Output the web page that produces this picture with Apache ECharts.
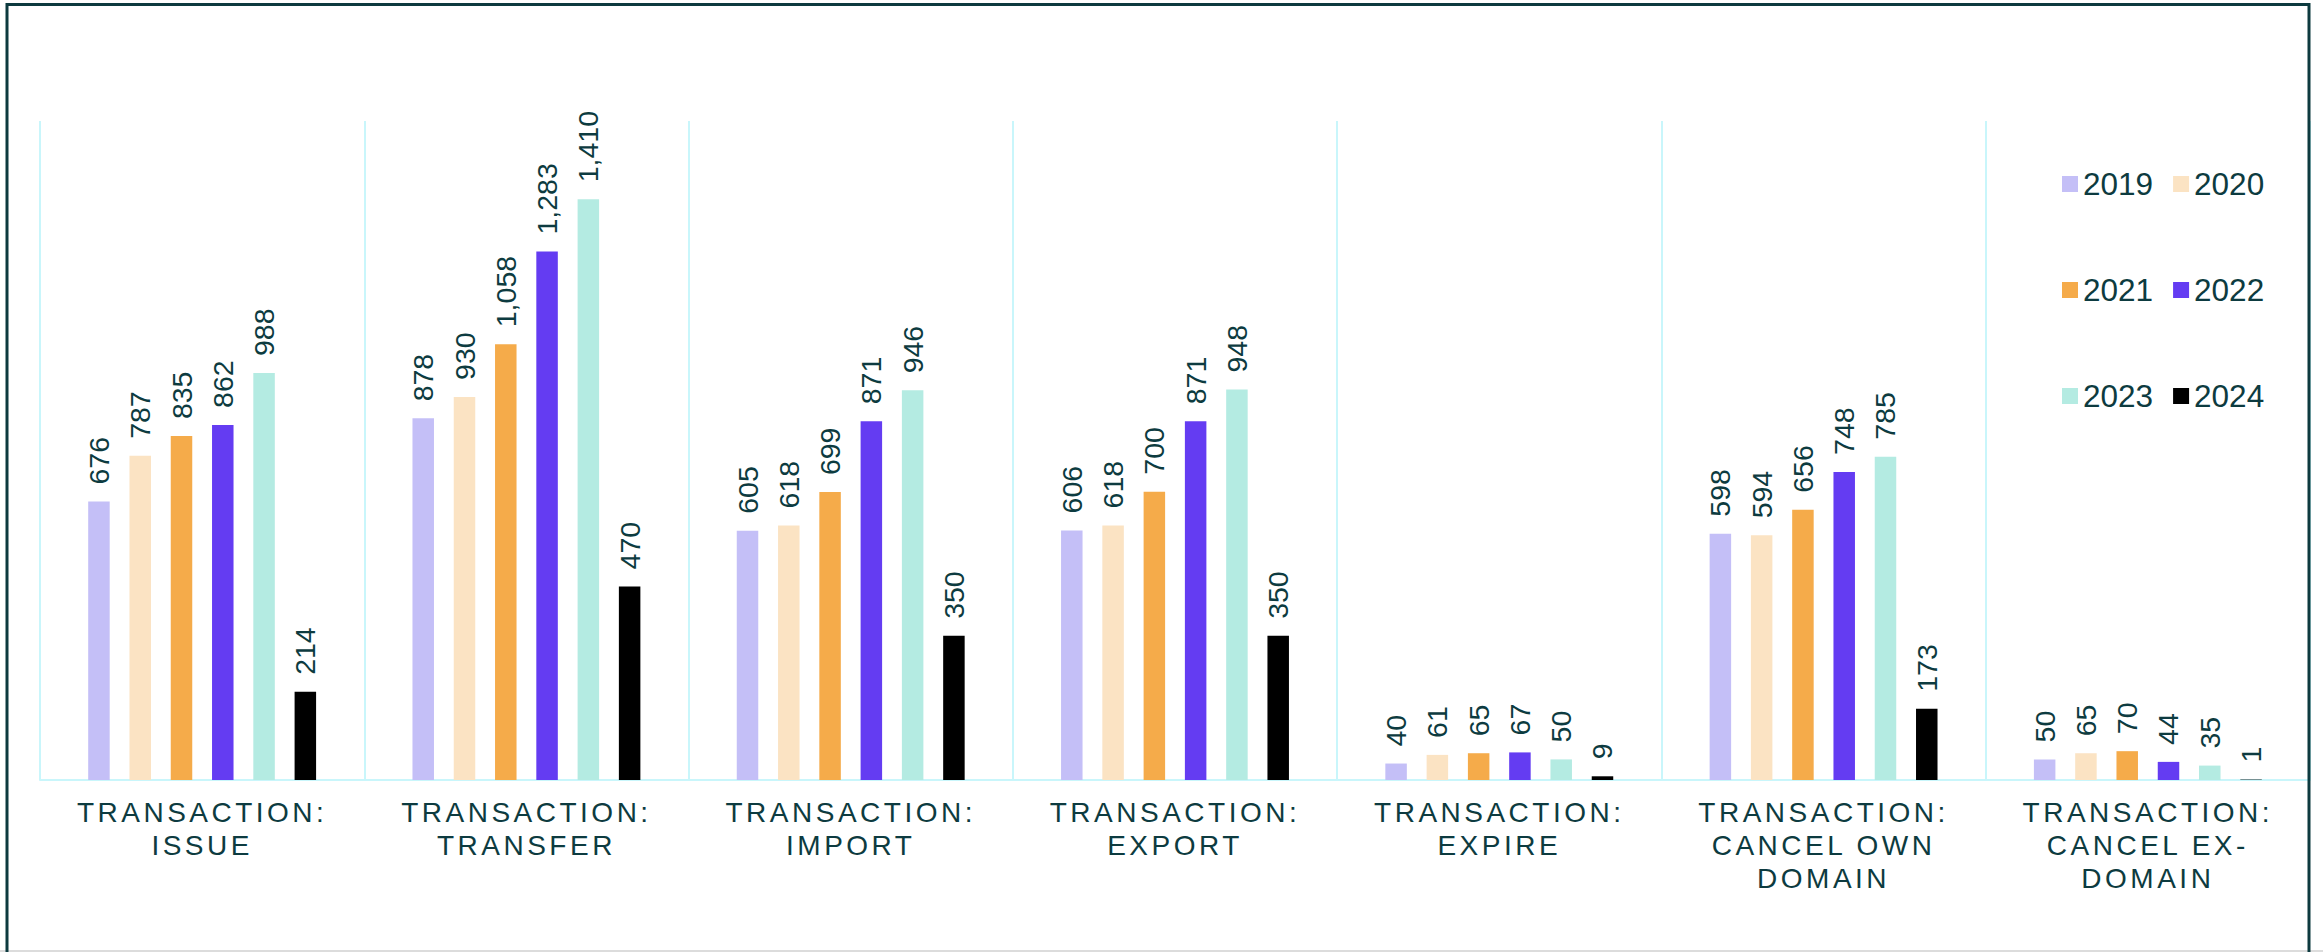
<!DOCTYPE html>
<html>
<head>
<meta charset="utf-8">
<title>Transactions by type, 2019–2024</title>
<script src="https://cdn.jsdelivr.net/npm/echarts@6/dist/echarts.min.js"></script>
<style>
  html, body { margin: 0; padding: 0; background: #ffffff; }
  #chart { width: 2323px; height: 952px; }
</style>
</head>
<body>
<div id="chart"></div>
<script>
// Transaction types shown along the x axis
const categories = [
  'TRANSACTION:\nISSUE',
  'TRANSACTION:\nTRANSFER',
  'TRANSACTION:\nIMPORT',
  'TRANSACTION:\nEXPORT',
  'TRANSACTION:\nEXPIRE',
  'TRANSACTION:\nCANCEL OWN\nDOMAIN',
  'TRANSACTION:\nCANCEL EX-\nDOMAIN'
];

const years = ['2019', '2020', '2021', '2022', '2023', '2024'];

// Yearly counts per transaction type
const v2019 = [676, 878, 605, 606, 40, 598, 50];
const v2020 = [787, 930, 618, 618, 61, 594, 65];
const v2021 = [835, 1058, 699, 700, 65, 656, 70];
const v2022 = [862, 1283, 871, 871, 67, 748, 44];
const v2023 = [988, 1410, 946, 948, 50, 785, 35];
const v2024 = [214, 470, 350, 350, 9, 173, 1];

const seriesValues = [v2019, v2020, v2021, v2022, v2023, v2024];
const yearColors = ['#c4bff7', '#fbe3c3', '#f5ab4a', '#643cf2', '#b4ebe2', '#000000'];

const textColor = '#0d3b40';
const gridColor = '#c9f6fb';
const fontFamily = '"Liberation Sans", Arial, Helvetica, sans-serif';

const fmt = new Intl.NumberFormat('en-US');

const series = years.map((year, i) => ({
  name: year,
  type: 'bar',
  data: seriesValues[i],
  barWidth: 21.5,
  barGap: '92%',
  itemStyle: { color: yearColors[i] },
  label: {
    show: true,
    position: 'top',
    distance: 17,
    rotate: 90,
    align: 'left',
    verticalAlign: 'middle',
    color: textColor,
    fontSize: 28.5,
    fontFamily: fontFamily,
    formatter: p => fmt.format(p.value)
  }
}));

// Legend laid out as three rows of two years
const legendRows = [['2019', '2020'], ['2021', '2022'], ['2023', '2024']];
const legendTops = [163, 269, 375];
const legends = legendRows.map((row, r) => ({
  data: row,
  orient: 'horizontal',
  left: 2057,
  top: legendTops[r],
  icon: 'rect',
  itemWidth: 16,
  itemHeight: 16,
  itemGap: 20,
  selectedMode: false,
  textStyle: { color: textColor, fontSize: 31.5, fontFamily: fontFamily }
}));

const chart = echarts.init(document.getElementById('chart'), null, { renderer: 'svg' });

chart.setOption({
  animation: false,
  backgroundColor: '#ffffff',
  textStyle: { fontFamily: fontFamily },
  legend: legends,
  grid: {
    left: 40,
    right: 13,
    top: 121,
    bottom: 172,
    containLabel: false,
    outerBoundsMode: 'none'
  },
  xAxis: {
    type: 'category',
    data: categories,
    axisTick: { show: false },
    axisLine: { show: true, lineStyle: { color: gridColor, width: 2 } },
    splitLine: { show: true, lineStyle: { color: gridColor, width: 2 } },
    axisLabel: {
      interval: 0,
      hideOverlap: false,
      margin: 16,
      color: textColor,
      fontSize: 28,
      lineHeight: 33,
      fontFamily: fontFamily
    }
  },
  yAxis: {
    type: 'value',
    min: 0,
    max: 1600,
    show: false,
    splitLine: { show: false }
  },
  graphic: [
    {
      type: 'line',
      z: 90,
      shape: { x1: 0, y1: 951, x2: 2323, y2: 951 },
      style: { stroke: '#dcdcdc', lineWidth: 2 }
    },
    {
      type: 'rect',
      z: 100,
      shape: { x: 7, y: 4.5, width: 2302, height: 1000 },
      style: { fill: 'none', stroke: '#0d3a3f', lineWidth: 3 }
    }
  ],
  series: series
});

// Tracked capitals for the category labels
const labelLines = new Set();
categories.forEach(c => c.split('\n').forEach(l => labelLines.add(l)));

function trackAxisLabels() {
  document.querySelectorAll('#chart text').forEach(t => {
    if (labelLines.has(t.textContent)) {
      t.style.letterSpacing = '3.5px';
    }
  });
}

chart.on('finished', trackAxisLabels);
setTimeout(trackAxisLabels, 50);
setTimeout(trackAxisLabels, 300);
</script>
</body>
</html>
